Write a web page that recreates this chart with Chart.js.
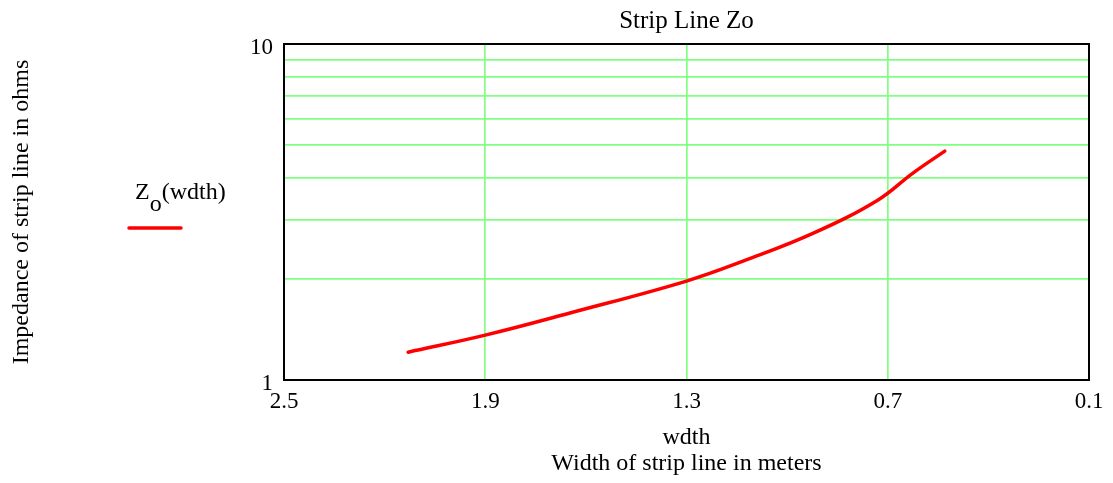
<!DOCTYPE html>
<html>
<head>
<meta charset="utf-8">
<script src="https://cdn.jsdelivr.net/npm/chart.js@4/dist/chart.umd.min.js"></script>
<style>
html,body{margin:0;padding:0;background:#fff;}
#wrap{width:1113px;height:483px;}
</style>
</head>
<body>
<div id="wrap"><canvas id="c"></canvas></div>
<script>
// values
const wdth = [2.13, 1.9, 1.65, 1.3, 1.12, 0.92, 0.73, 0.625, 0.53];
const zo = [1.21, 1.36, 1.58, 1.97, 2.28, 2.74, 3.43, 4.13, 4.80];
const xTicks = [2.5, 1.9, 1.3, 0.7, 0.1];
const yTicks = [1, 2, 3, 4, 5, 6, 7, 8, 9, 10];
const yLabels = [1, 10];

const serif = "'Liberation Serif', 'DejaVu Serif', serif";
const gridGreen = "#80ff80";

const frame = {
  id: "frame",
  afterDatasetsDraw(chart){
    const a = chart.chartArea, ctx = chart.ctx;
    ctx.save();
    ctx.strokeStyle = "#000";
    ctx.lineWidth = 2;
    ctx.strokeRect(a.left, a.top, a.right - a.left, a.bottom - a.top);
    ctx.restore();
  }
};

// the "Zo(wdth)" key on the left
const key = {
  id: "key",
  afterDraw(chart){
    const ctx = chart.ctx;
    ctx.save();
    ctx.fillStyle = "#000";
    ctx.font = "24px " + serif;
    ctx.textBaseline = "alphabetic";
    ctx.fillText("Z", 135, 199);
    let x = 135 + ctx.measureText("Z").width;
    ctx.fillText("o", x, 211);
    x += ctx.measureText("o").width;
    ctx.fillText("(wdth)", x, 199);
    ctx.strokeStyle = "#ff0000";
    ctx.lineWidth = 3.5;
    ctx.lineCap = "round";
    ctx.beginPath();
    ctx.moveTo(129, 228);
    ctx.lineTo(181, 228);
    ctx.stroke();
    ctx.restore();
  }
};

new Chart(document.getElementById("c"), {
  type: "scatter",
  data: {
    datasets: [{
      label: "Zo(wdth)",
      data: wdth.map((w, i) => ({x: w, y: zo[i]})),
      showLine: true,
      borderColor: "#ff0000",
      borderWidth: 3.5,
      pointRadius: 0,
      tension: 0.4,
      borderCapStyle: "round"
    }]
  },
  options: {
    responsive: true,
    maintainAspectRatio: false,
    animation: false,
    layout: {padding: {left: 0, right: 24, top: 0, bottom: 0}},
    plugins: {
      legend: {display: false},
      tooltip: {enabled: false},
      title: {
        display: true,
        text: "Strip Line Zo",
        fullSize: false,
        color: "#000",
        font: {family: serif, size: 25, weight: "normal", lineHeight: 1.1},
        padding: {top: 8, bottom: 8.5}
      }
    },
    scales: {
      x: {
        type: "linear",
        reverse: true,
        min: 0.1,
        max: 2.5,
        afterBuildTicks: s => { s.ticks = xTicks.map(v => ({value: v})); },
        afterFit: s => { s.height = 103; },
        grid: {color: gridGreen, lineWidth: 1.7, drawTicks: false},
        border: {display: false},
        ticks: {
          color: "#000",
          padding: 8,
          autoSkip: false,
          maxRotation: 0,
          font: {family: serif, size: 23},
          callback: v => String(v)
        },
        title: {
          display: true,
          text: ["wdth", "Width of strip line in meters"],
          color: "#000",
          font: {family: serif, size: 24, lineHeight: 1.1},
          padding: {top: 0, bottom: 6}
        }
      },
      y: {
        type: "logarithmic",
        min: 1,
        max: 10,
        afterBuildTicks: s => { s.ticks = yTicks.map(v => ({value: v})); },
        afterFit: s => { s.width = 284; },
        grid: {color: gridGreen, lineWidth: 1.7, drawTicks: false},
        border: {display: false},
        ticks: {
          color: "#000",
          padding: 11,
          labelOffset: 4,
          autoSkip: false,
          font: {family: serif, size: 23},
          callback: v => yLabels.includes(v) ? String(v) : ""
        },
        title: {
          display: true,
          text: "Impedance of strip line in ohms",
          color: "#000",
          font: {family: serif, size: 24, lineHeight: 1.1},
          padding: {top: 9, bottom: 0}
        }
      }
    }
  },
  plugins: [frame, key]
});
</script>
</body>
</html>
